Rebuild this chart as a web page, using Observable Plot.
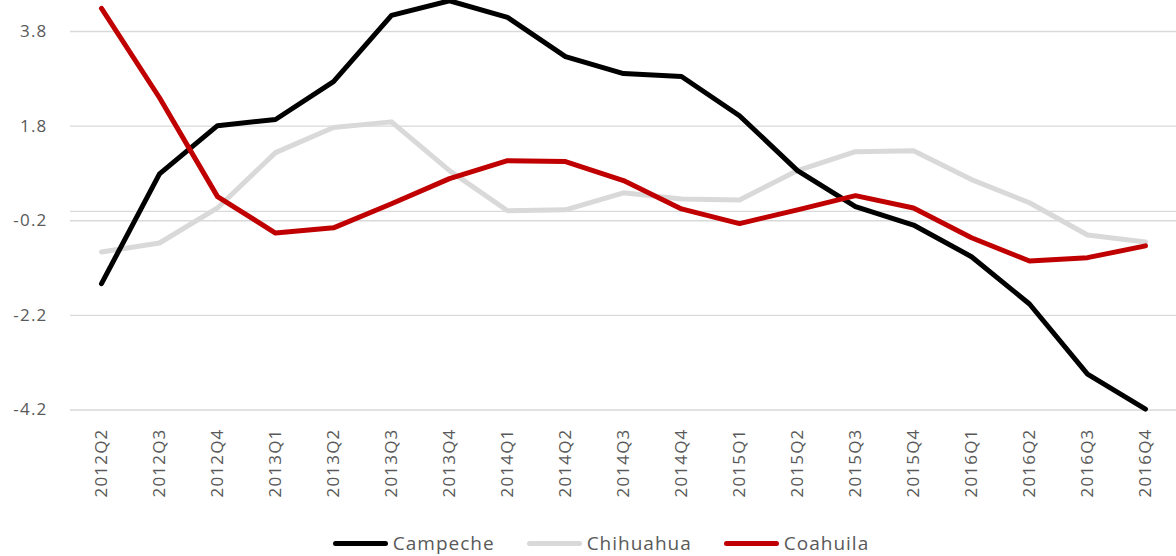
<!DOCTYPE html>
<html><head><meta charset="utf-8">
<script src="https://cdn.jsdelivr.net/npm/d3@7"></script>
<script src="https://cdn.jsdelivr.net/npm/@observablehq/plot@0.6"></script>
<style>
body{margin:0;background:#fff;font-family:"Open Sans",sans-serif;}
#chart svg text{letter-spacing:1.2px;}
#legend{display:flex;justify-content:center;align-items:center;height:40px;margin-top:8px;padding-left:26px;font-size:19px;letter-spacing:1px;color:#595959;}
.item{display:flex;align-items:center;margin:0 16px;}
.sw{width:55px;height:5px;border-radius:3px;margin-right:5px;}
</style></head><body>
<div id="chart"></div><div id="legend"></div>
<script>
const quarters = ["2012Q2","2012Q3","2012Q4","2013Q1","2013Q2","2013Q3","2013Q4","2014Q1","2014Q2","2014Q3","2014Q4","2015Q1","2015Q2","2015Q3","2015Q4","2016Q1","2016Q2","2016Q3","2016Q4"];
const campeche = [-1.53, 0.79, 1.81, 1.94, 2.74, 4.14, 4.45, 4.10, 3.27, 2.91, 2.85, 2.02, 0.86, 0.10, -0.29, -0.96, -1.96, -3.44, -4.18];
const chihuahua = [-0.86, -0.67, 0.07, 1.24, 1.77, 1.89, 0.86, 0.01, 0.03, 0.39, 0.26, 0.24, 0.86, 1.26, 1.28, 0.67, 0.18, -0.50, -0.65];
const coahuila = [4.29, 2.40, 0.31, -0.46, -0.35, 0.16, 0.69, 1.07, 1.05, 0.65, 0.05, -0.26, 0.03, 0.33, 0.07, -0.56, -1.05, -0.98, -0.73];
const yTicks = [3.8, 1.8, -0.2, -2.2, -4.2];
const seriesNames = ["Campeche", "Chihuahua", "Coahuila"];
const seriesColors = ["#000000", "#d9d9d9", "#c00000"];

const seriesValues = [campeche, chihuahua, coahuila];
const tables = seriesValues.map((vals, i) => quarters.map((q, j) => ({quarter: q, value: vals[j], series: seriesNames[i]})));
const drawOrder = [1, 0, 2];

const lineOpts = (i) => ({x: "quarter", y: "value", stroke: seriesColors[i], strokeWidth: 5, strokeLinecap: "round", strokeLinejoin: "round"});

const chart = Plot.plot({
  width: 1176, height: 515,
  marginLeft: 70, marginRight: 0, marginTop: 0, marginBottom: 105,
  style: {color: "#595959", fontFamily: "Open Sans, sans-serif", background: "#fff"},
  x: {type: "point", domain: quarters, padding: 0.5, label: null},
  y: {domain: [-4.2, 3.8], range: [409.5, 31], label: null},
  marks: [
    Plot.ruleY(yTicks, {stroke: "#d9d9d9", strokeWidth: 1.3}),
    Plot.ruleY([0], {stroke: "#d9d9d9", strokeWidth: 1.3}),
    Plot.axisY(yTicks, {tickSize: 0, tickPadding: 23, fontSize: 17, tickFormat: d => d.toFixed(1), label: null}),
    Plot.axisX({tickSize: 0, tickRotate: -90, tickPadding: 18, fontSize: 17, label: null}),
    ...drawOrder.map(i => Plot.line(tables[i], lineOpts(i)))
  ]
});
document.getElementById("chart").appendChild(chart);

const legend = document.getElementById("legend");
seriesNames.forEach((name, i) => {
  const item = document.createElement("div");
  item.className = "item";
  const sw = document.createElement("div");
  sw.className = "sw";
  sw.style.background = seriesColors[i];
  const t = document.createElement("span");
  t.textContent = name;
  item.appendChild(sw); item.appendChild(t);
  legend.appendChild(item);
});
</script>
</body></html>
